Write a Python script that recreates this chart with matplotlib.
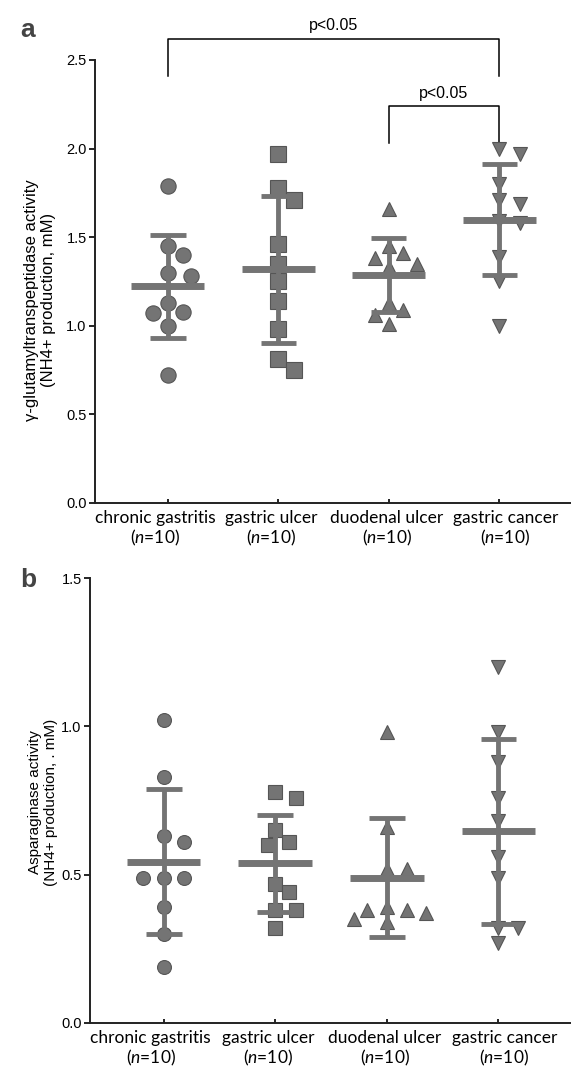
import numpy as np
import matplotlib
matplotlib.use("Agg")
import matplotlib.pyplot as plt
from matplotlib.transforms import ScaledTranslation

# ---------------- data ----------------
categories = ["chronic gastritis", "gastric ulcer", "duodenal ulcer", "gastric cancer"]
n_labels = ["10", "10", "10", "10"]

# panel a : gamma-glutamyltranspeptidase activity (mM)
ggt_chronic_gastritis = [1.79, 1.45, 1.40, 1.30, 1.28, 1.13, 1.07, 1.08, 1.00, 0.72]
ggt_gastric_ulcer = [1.97, 1.78, 1.71, 1.46, 1.35, 1.25, 1.14, 0.98, 0.81, 0.75]
ggt_duodenal_ulcer = [1.66, 1.38, 1.41, 1.45, 1.33, 1.35, 1.13, 1.09, 1.06, 1.01]
ggt_gastric_cancer = [2.00, 1.97, 1.80, 1.71, 1.69, 1.59, 1.58, 1.39, 1.25, 1.00]

# panel b : asparaginase activity (mM)
asp_chronic_gastritis = [1.02, 0.83, 0.61, 0.63, 0.49, 0.49, 0.49, 0.39, 0.30, 0.19]
asp_gastric_ulcer = [0.78, 0.76, 0.65, 0.61, 0.60, 0.47, 0.44, 0.38, 0.38, 0.32]
asp_duodenal_ulcer = [0.98, 0.66, 0.52, 0.52, 0.38, 0.37, 0.38, 0.39, 0.35, 0.34]
asp_gastric_cancer = [1.20, 0.98, 0.88, 0.76, 0.68, 0.56, 0.49, 0.32, 0.32, 0.27]

# significance brackets on panel a: (group i, group j, bracket top, leg bottom, text)
sig_pairs = [(0, 3, 2.62, 2.41, "p<0.05"), (2, 3, 2.24, 2.03, "p<0.05")]

ylabel_a = "\u03b3-glutamyltranspeptidase activity\n(NH4+ production, mM)"
ylabel_b = "Asparaginase activity\n(NH4+ production, . mM)"
yticks_a = [0.0, 0.5, 1.0, 1.5, 2.0, 2.5]
yticks_b = [0.0, 0.5, 1.0, 1.5]

# ---------------- style ----------------
plt.rcParams["font.family"] = ["Liberation Sans", "DejaVu Sans"]
plt.rcParams["mathtext.fontset"] = "custom"
plt.rcParams["mathtext.it"] = "Lato:italic"
plt.rcParams["mathtext.rm"] = "Lato"

GREY = "#747474"
EDGE = "#555555"
markers = ["o", "s", "^", "v"]
label_shift_px = [-13, -7, -2, 6]

fig = plt.figure(figsize=(5.71, 10.68), dpi=100)
ax_a = fig.add_axes([95 / 571, (1068 - 503) / 1068, 1 - 95 / 571, (503 - 60) / 1068])
ax_b = fig.add_axes([90 / 571, (1068 - 1023) / 1068, 1 - 90 / 571, (1023 - 578) / 1068])


def swarm_offsets(ax, x0, values, diam_px):
    """simple beeswarm: place points so markers keep apart (pixel space)"""
    order = np.argsort(values, kind="stable")[::-1]
    placed = []
    offs = np.zeros(len(values))
    p0 = ax.transData.transform((x0, 0))
    p1 = ax.transData.transform((x0 + 1, 0))
    px_per_x = p1[0] - p0[0]
    half = 0.5 * diam_px
    cand = [0]
    for k in range(1, 10):
        cand += [k, -k]
    for idx in order:
        ypx = ax.transData.transform((x0, values[idx]))[1]
        for c in cand:
            xpx = p0[0] + c * half
            if all((qx - xpx) ** 2 + (qy - ypx) ** 2 >= (diam_px * 1.12) ** 2
                   for (qx, qy) in placed):
                offs[idx] = c * half / px_per_x
                placed.append((xpx, ypx))
                break
    return offs


def draw_panel(ax, groups, ylim, yticks, msizes):
    ax.set_xlim(-0.66, 3.65)
    ax.set_ylim(*ylim)
    ax.set_yticks(yticks)
    ax.set_yticklabels([f"{t:.1f}" for t in yticks], fontsize=10.5)
    for s in ["top", "right"]:
        ax.spines[s].set_visible(False)
    for s in ["left", "bottom"]:
        ax.spines[s].set_linewidth(1.4)
        ax.spines[s].set_color("#222222")
    ax.tick_params(axis="y", direction="out", length=4, width=1.2, pad=2)
    ax.tick_params(axis="x", direction="in", length=3, width=1.2, pad=5)
    ax.set_xticks(range(len(categories)))
    ax.set_xticklabels([f"{c}\n($\\it{{n}}$={n})" for c, n in zip(categories, n_labels)],
                       fontsize=12.5, family="Lato", linespacing=1.12)
    for lab, dx in zip(ax.get_xticklabels(), label_shift_px):
        lab.set_transform(lab.get_transform() + ScaledTranslation(dx / 100, 0, fig.dpi_scale_trans))
    fig.canvas.draw()
    for i, vals in enumerate(groups):
        vals = np.asarray(vals)
        dpx = msizes[i] * 100 / 72
        offs = swarm_offsets(ax, i, vals, dpx)
        ax.plot(i + offs, vals, linestyle="none", marker=markers[i], ms=msizes[i],
                mfc=GREY, mec=EDGE, mew=0.8, zorder=3, clip_on=False)
        m = vals.mean()
        sd = vals.std(ddof=1)
        ax.hlines(m, i - 0.33, i + 0.33, color=GREY, lw=5, zorder=4)
        ax.vlines(i, m - sd, m + sd, color=GREY, lw=3.5, zorder=4)
        ax.hlines([m - sd, m + sd], i - 0.16, i + 0.16, color=GREY, lw=3.5, zorder=4)


draw_panel(ax_a, [ggt_chronic_gastritis, ggt_gastric_ulcer, ggt_duodenal_ulcer, ggt_gastric_cancer],
           (0, 2.5), yticks_a, [11, 11, 10, 10])
draw_panel(ax_b, [asp_chronic_gastritis, asp_gastric_ulcer, asp_duodenal_ulcer, asp_gastric_cancer],
           (0, 1.5), yticks_b, [10, 10, 9.5, 9.5])

# significance brackets
for (i, j, top, bot, txt) in sig_pairs:
    ax_a.plot([i, i, j, j], [bot, top, top, bot], color="black", lw=1.1, clip_on=False)
    ax_a.text((i + j) / 2, top + 0.03, txt, ha="center", va="bottom", fontsize=11.5)

# y labels
fig.text(40 / 571, 1 - 300 / 1068, ylabel_a, rotation=90, ha="center", va="center",
         multialignment="center", fontsize=12, linespacing=1.2)
fig.text(43 / 571, 1 - 802 / 1068, ylabel_b, rotation=90, ha="center", va="center",
         multialignment="center", fontsize=11, linespacing=1.25)

# panel letters
fig.text(28 / 571, 1 - 30 / 1068, "a", fontsize=19, fontweight="bold", ha="center", va="center",
         color="#444444")
fig.text(28 / 571, 1 - 580 / 1068, "b", fontsize=19, fontweight="bold", ha="center", va="center",
         color="#444444")

fig.savefig("out.png", dpi=100)
